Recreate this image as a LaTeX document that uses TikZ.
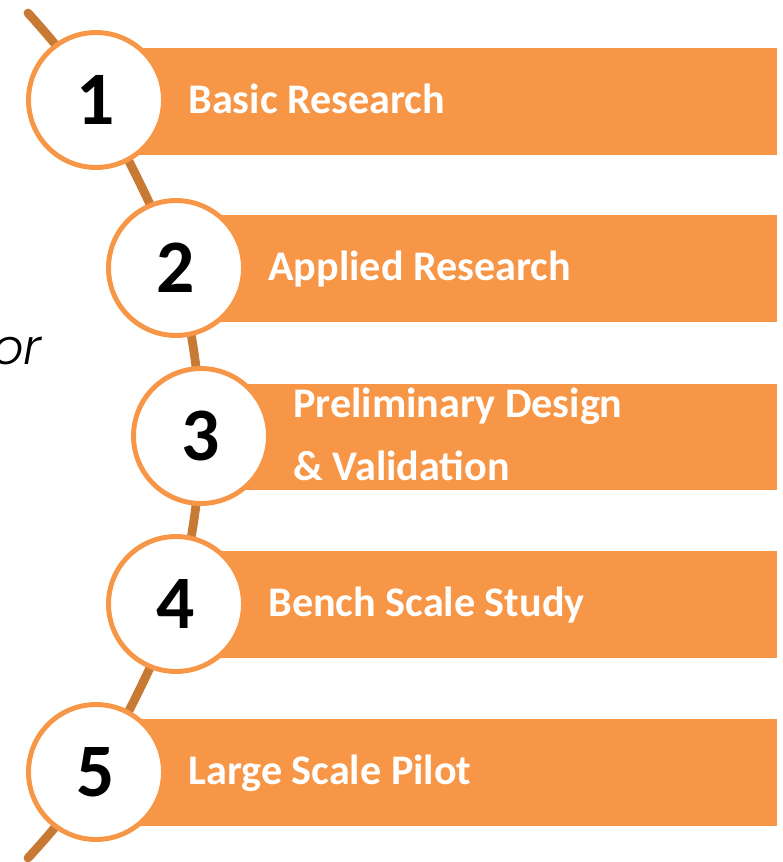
\documentclass[tikz,border=0pt]{standalone}
\usepackage{fontspec}
\setmainfont{Carlito}
\newfontfamily\orfont{Poppins Light}[ItalicFont=Poppins Light Italic]
\usepackage{tikz}

\definecolor{barorange}{RGB}{247,150,70}
\definecolor{spinebrown}{RGB}{200,121,52}

\begin{document}
\begin{tikzpicture}[x=0.02cm,y=-0.02cm,
		stage/.style={circle,draw=barorange,line width=2.8pt,fill=white,minimum size=2.7cm,inner sep=0pt,font=\fontsize{43}{43}\selectfont\bfseries},
		label/.style={anchor=base west,text=white,inner sep=0pt,font=\fontsize{24}{30}\selectfont\bfseries}]
		\useasboundingbox (0,0) rectangle (782,862);
		\coordinate (top) at (28,13);
		\coordinate (c1) at (96,100);
		\coordinate (c2) at (176,268);
		\coordinate (c3) at (201,436);
		\coordinate (c4) at (176,604);
		\coordinate (c5) at (96,772);
		\coordinate (bot) at (28,858);
		%
		\draw[spinebrown,line width=5pt,line cap=round]
		plot[smooth] coordinates {(top) (c1) (c2) (c3) (c4) (c5) (bot)};
		%
		\fill[barorange] (96,48) rectangle (777,155);
		\fill[barorange] (176,215) rectangle (777,322);
		\fill[barorange] (201,384) rectangle (777,490);
		\fill[barorange] (176,551) rectangle (777,658);
		\fill[barorange] (96,719) rectangle (777,826);
		%
		\node[stage] (n1) at (c1) {1};
		\node[stage] (n2) at (c2) {2};
		\node[stage] (n3) at (c3) {3};
		\node[stage] (n4) at (c4) {4};
		\node[stage] (n5) at (c5) {5};
		%
		\node[label] (l1) at (188,113) {Basic Research};
		\node[label] (l2) at (268,280) {Applied Research};
		\node[label] (l3) at (293,417) {Preliminary Design};
		\node[label] (l3b) at (293,480) {\& Validation};
		\node[label] (l4) at (268,616) {Bench Scale Study};
		\node[label] (l5) at (188,784) {Large Scale Pilot};
		%
		\node[anchor=base east,inner sep=0pt,font=\orfont\itshape\fontsize{28}{30}\selectfont] (or) at (42,364) {or};
	\end{tikzpicture}
\end{document}
